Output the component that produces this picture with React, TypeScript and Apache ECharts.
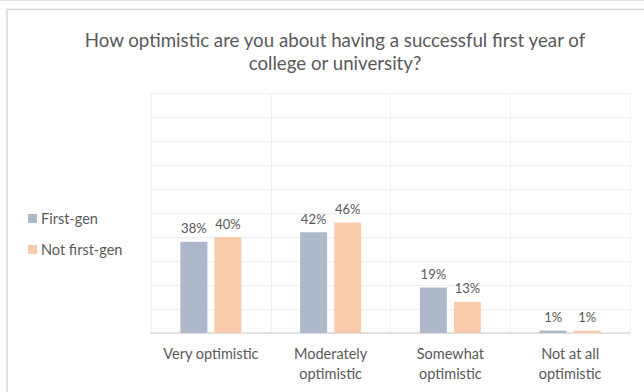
import React, { useEffect, useRef } from "react";
import * as echarts from "echarts";

const categories = ["Very optimistic", "Moderately\noptimistic", "Somewhat\noptimistic", "Not at all\noptimistic"];
const firstGen = [38, 42, 19, 1];
const notFirstGen = [40, 46, 13, 1];
const seriesNames = ["First-gen", "Not first-gen"];
const titleText = "How optimistic are you about having a successful first year of\ncollege or university?";

const FONT = "Lato, 'Open Sans', sans-serif";
const TXT = "#595959";

export default function App() {
  const ref = useRef<HTMLDivElement>(null);
  useEffect(() => {
    if (!ref.current) return;
    const chart = echarts.init(ref.current, null, { renderer: "svg" });
    chart.setOption({
      animation: false,
      backgroundColor: "#ffffff",
      textStyle: { fontFamily: FONT },
      title: {
        text: titleText,
        left: 335,
        top: 28,
        padding: 0,
        textAlign: "center",
        textStyle: { fontSize: 18.7, fontWeight: "normal", color: TXT, lineHeight: 23, fontFamily: FONT },
      },
      legend: {
        orient: "vertical",
        left: 28,
        top: 211,
        padding: 0,
        itemWidth: 9,
        itemHeight: 9,
        itemGap: 16,
        icon: "rect",
        textStyle: { fontSize: 14.5, color: TXT, fontFamily: FONT, padding: [0, 0, 0, -1] },
        data: seriesNames,
      },
      graphic: [
        { type: "rect", shape: { x: 7, y: 9.5, width: 700, height: 500 }, style: { fill: "none", stroke: "#d9d9d9", lineWidth: 1.5 }, silent: true },
        { type: "line", shape: { x1: 0, y1: 0.5, x2: 644, y2: 0.5 }, style: { stroke: "#e0e0e0", lineWidth: 1 }, silent: true },
      ],
      grid: { left: 151, right: 14, top: 93, bottom: 59 },
      xAxis: {
        type: "category",
        data: categories,
        axisLine: { show: true, lineStyle: { color: "#d9d9d9", width: 1.5 } },
        axisTick: { show: false },
        splitLine: { show: true, lineStyle: { color: "#f0f0f0", width: 1 } },
        axisLabel: { fontSize: 14.5, color: TXT, lineHeight: 20, margin: 10, fontFamily: FONT, interval: 0 },
      },
      yAxis: {
        type: "value",
        min: 0,
        max: 100,
        interval: 10,
        axisLabel: { show: false },
        axisLine: { show: false },
        axisTick: { show: false },
        splitLine: { show: true, lineStyle: { color: "#f0f0f0", width: 1 } },
      },
      series: [
        {
          name: seriesNames[0],
          type: "bar",
          data: firstGen,
          barWidth: 27,
          barGap: "26%",
          itemStyle: { color: "#adb9ca" },
          label: { show: true, position: "top", distance: 7, formatter: "{c}%", fontSize: 13, color: TXT, fontFamily: FONT },
        },
        {
          name: seriesNames[1],
          type: "bar",
          data: notFirstGen,
          barWidth: 27,
          itemStyle: { color: "#f8cbad" },
          label: { show: true, position: "top", distance: 7, formatter: "{c}%", fontSize: 13, color: TXT, fontFamily: FONT },
        },
      ],
    });
    return () => chart.dispose();
  }, []);
  return <div ref={ref} style={{ position: "fixed", left: 0, top: 0, width: 644, height: 392 }} />;
}
